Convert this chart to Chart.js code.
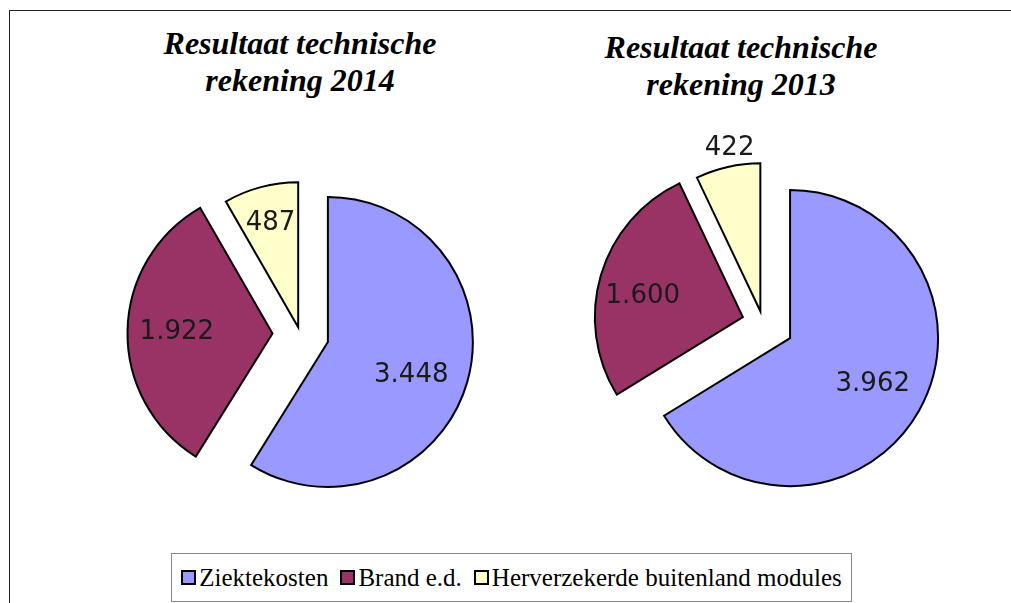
<!DOCTYPE html>
<html>
<head>
<meta charset="utf-8">
<script src="https://cdn.jsdelivr.net/npm/chart.js@4.4.0/dist/chart.umd.min.js"></script>
<style>
  body { margin: 0; background: #fff; width: 1011px; height: 603px; overflow: hidden; position: relative;
         font-family: "Liberation Serif", "Times New Roman", serif; }
  #frame { position: absolute; left: 9px; top: 10px; width: 1100px; height: 700px;
           border-top: 1px solid #222; border-left: 1px solid #222; }
  .title { position: absolute; width: 400px; text-align: center; font-weight: bold; font-style: italic;
           font-family: "Liberation Serif", serif; font-size: 32px; line-height: 37px; color: #000; }
  canvas { position: absolute; }
  #legend { position: absolute; left: 171px; top: 553px; width: 679px; height: 47px; border: 1px solid #888;
            display: flex; align-items: center; justify-content: center;
            font-family: "Liberation Serif", serif; font-size: 25px; color: #000; }
  .item { display: flex; align-items: center; margin: 0 6px; }
  .box { width: 11px; height: 11px; border: 2px solid #000; margin-right: 3px; }
</style>
</head>
<body>
<div id="frame"></div>
<div class="title" id="title1" style="left:100px; top:25px"></div>
<div class="title" id="title2" style="left:541px; top:29px"></div>
<canvas id="pie2014" width="400" height="400" style="left:100px; top:134px"></canvas>
<canvas id="pie2013" width="400" height="400" style="left:563px; top:123px"></canvas>
<div id="legend"></div>

<script>
const categories = ["Ziektekosten", "Brand e.d.", "Herverzekerde buitenland modules"];
const values2014 = [3448, 1922, 487];
const values2013 = [3962, 1600, 422];
const title2014 = ["Resultaat technische", "rekening 2014"];
const title2013 = ["Resultaat technische", "rekening 2013"];
const colors = ["#9999FF", "#993366", "#FFFFCC"];

// dutch thousands separator
function fmt(v) {
  return String(v).replace(/\B(?=(\d{3})+(?!\d))/g, ".");
}

// pull slices out of the pie (like excel's exploded points)
const explode = {
  id: "explode",
  afterDatasetsUpdate(chart, args, opts) {
    chart.getDatasetMeta(0).data.forEach((arc, i) => {
      const mid = (arc.startAngle + arc.endAngle) / 2;
      const d = opts.distances[i] || 0;
      arc.x += Math.cos(mid) * d;
      arc.y += Math.sin(mid) * d;
    });
  }
};

// value labels inside / near the slices
const sliceLabels = {
  id: "sliceLabels",
  afterDatasetsDraw(chart, args, opts) {
    const ctx = chart.ctx;
    const data = chart.data.datasets[0].data;
    ctx.save();
    ctx.font = "26px 'DejaVu Sans'";
    ctx.fillStyle = "#1a1a1a";
    ctx.textAlign = "center";
    ctx.textBaseline = "middle";
    chart.getDatasetMeta(0).data.forEach((arc, i) => {
      const a = (arc.startAngle + arc.endAngle) / 2 + (opts.turn[i] || 0) * Math.PI / 180;
      const r = arc.outerRadius * opts.radii[i];
      ctx.fillText(fmt(data[i]), arc.x + Math.cos(a) * r, arc.y + Math.sin(a) * r);
    });
    ctx.restore();
  }
};

function makePie(id, values, radius, distances, radii, turn) {
  return new Chart(document.getElementById(id), {
    type: "pie",
    data: {
      labels: categories,
      datasets: [{
        data: values,
        backgroundColor: colors,
        borderColor: "#000",
        borderWidth: 2,
        borderJoinStyle: "miter"
      }]
    },
    options: {
      responsive: false,
      animation: false,
      radius: radius,
      plugins: {
        legend: { display: false },
        tooltip: { enabled: false },
        explode: { distances: distances },
        sliceLabels: { radii: radii, turn: turn }
      }
    },
    plugins: [explode, sliceLabels]
  });
}

makePie("pie2014", values2014, 145, [29, 27.5, 7], [0.62, 0.66, 0.74], [6, 0, 0]);
makePie("pie2013", values2013, 148, [31, 21, 12], [0.64, 0.69, 1.12], [0, -5, 2]);

document.getElementById("title1").innerHTML = title2014.join("<br>");
document.getElementById("title2").innerHTML = title2013.join("<br>");

const legend = document.getElementById("legend");
categories.forEach((c, i) => {
  const item = document.createElement("div");
  item.className = "item";
  item.innerHTML = '<span class="box" style="background:' + colors[i] + '"></span><span>' + c + '</span>';
  legend.appendChild(item);
});
</script>
</body>
</html>
